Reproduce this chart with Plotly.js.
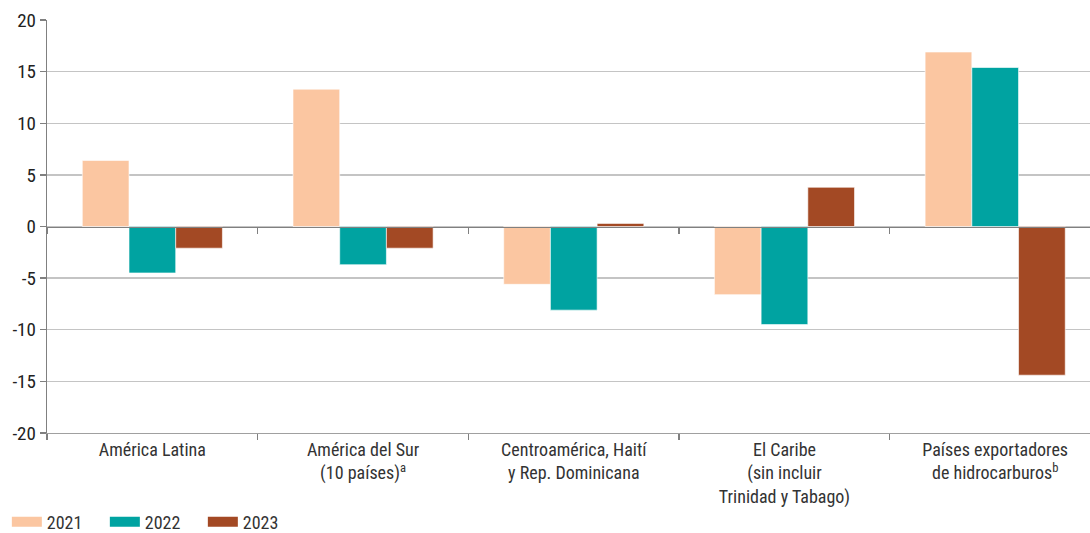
<!DOCTYPE html>
<html>
<head>
<meta charset="utf-8">
<script src="https://cdn.plot.ly/plotly-3.0.1.min.js"></script>
<style>html,body{margin:0;padding:0;background:#fff;}#chart{width:1090px;height:533px;}</style>
</head>
<body>
<div id="chart"></div>
<script>
const categories = [
  "América Latina",
  "América del Sur<br>(10 países)<sup>a</sup>",
  "Centroamérica, Haití<br>y Rep. Dominicana",
  "El Caribe<br>(sin incluir<br>Trinidad y Tabago)",
  "Países exportadores<br>de hidrocarburos<sup>b</sup>"
];
const seriesNames = ["2021", "2022", "2023"];
const values2021 = [6.4, 13.3, -5.6, -6.6, 16.9];
const values2022 = [-4.5, -3.7, -8.1, -9.5, 15.4];
const values2023 = [-2.1, -2.1, 0.3, 3.8, -14.4];
const yTicks = [-20, -15, -10, -5, 0, 5, 10, 15, 20];
const colors = ["#FBC6A1", "#00A3A1", "#A34924"];

const FONT = "'Roboto Condensed', 'Liberation Sans Narrow', 'DejaVu Sans Condensed', 'Arial Narrow', sans-serif";
const allValues = [values2021, values2022, values2023];

const traces = allValues.map((vals, i) => ({
  type: "bar",
  name: seriesNames[i],
  legendgroup: seriesNames[i],
  showlegend: false,
  x: categories,
  y: vals,
  marker: { color: colors[i], line: { color: "rgba(255,255,255,0.6)", width: 1 } },
  hoverinfo: "skip"
}));

// legend entries drawn as wide colour blocks (no data points)
seriesNames.forEach((name, i) => {
  traces.push({
    type: "scatter", mode: "lines", name: name, legendgroup: name,
    x: [null], y: [null],
    line: { color: colors[i], width: 14 },
    hoverinfo: "skip"
  });
});

// helper trace so the zero-line axis with boundary ticks is drawn
traces.push({
  type: "scatter", mode: "markers", x: categories, y: categories.map(() => null),
  xaxis: "x2", yaxis: "y", showlegend: false, hoverinfo: "skip"
});

const layout = {
  width: 1090,
  height: 533,
  margin: { l: 47, r: 0, t: 19.5, b: 100, autoexpand: false },
  paper_bgcolor: "#ffffff",
  plot_bgcolor: "#ffffff",
  font: { family: FONT, size: 17, color: "#333333" },
  barmode: "group",
  bargap: 0.335,
  bargroupgap: 0,
  showlegend: true,
  legend: {
    orientation: "h",
    x: -0.0385, xanchor: "left",
    y: -0.2155, yanchor: "middle",
    font: { family: FONT, size: 18, color: "#333333" },
    traceorder: "normal",
    entrywidth: 53,
    itemclick: false
  },
  xaxis: {
    type: "category",
    categoryorder: "array",
    categoryarray: categories,
    range: [-0.5, 4.45],
    tickson: "boundaries",
    ticks: "outside",
    ticklen: 6,
    tickcolor: "#808080",
    tickwidth: 1.3,
    showline: true,
    linecolor: "#a0a0a0",
    linewidth: 1.3,
    showgrid: false,
    automargin: false,
    tickfont: { family: FONT, size: 18, color: "#333333" },
    fixedrange: true
  },
  xaxis2: {
    type: "category",
    categoryorder: "array",
    categoryarray: categories,
    range: [-0.5, 4.45],
    overlaying: "x",
    anchor: "free",
    position: 0.5,
    side: "bottom",
    tickson: "boundaries",
    ticks: "outside",
    ticklen: 6,
    tickcolor: "#808080",
    tickwidth: 1.3,
    showline: true,
    linecolor: "#808080",
    linewidth: 1.3,
    showgrid: false,
    showticklabels: false,
    automargin: false,
    fixedrange: true
  },
  yaxis: {
    range: [-20, 20],
    tickvals: yTicks,
    ticktext: yTicks.map(String),
    ticks: "outside",
    ticklen: 6,
    tickcolor: "#808080",
    tickwidth: 1.3,
    showline: true,
    linecolor: "#808080",
    linewidth: 1.3,
    showgrid: true,
    gridcolor: "#c4c4c4",
    gridwidth: 1.3,
    zeroline: false,
    automargin: false,
    tickfont: { family: FONT, size: 19, color: "#222222" },
    fixedrange: true
  }
};

Plotly.newPlot("chart", traces, layout, { displayModeBar: false, staticPlot: true });
</script>
</body>
</html>
